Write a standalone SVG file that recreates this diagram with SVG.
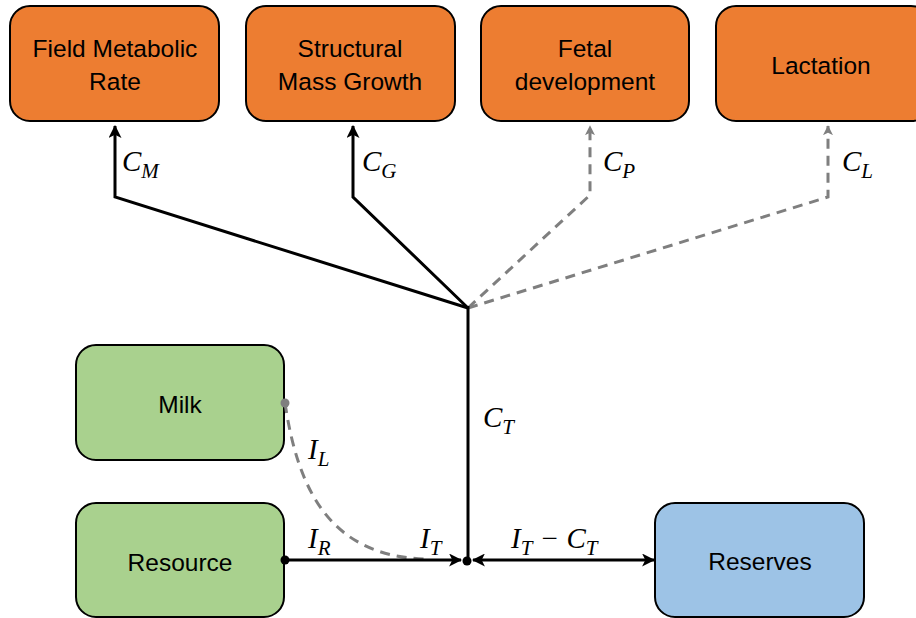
<svg xmlns="http://www.w3.org/2000/svg" width="916" height="618" viewBox="0 0 916 618">
<defs>
<style>
.orange{fill:#ed7d31;stroke:#000;stroke-width:2}
.green{fill:#a9d18e;stroke:#000;stroke-width:2}
.blue{fill:#9dc3e6;stroke:#000;stroke-width:2}
.lbl{font-family:"Liberation Sans",Arial,sans-serif;font-size:24.5px;fill:#000;text-anchor:middle}
.math{font-family:"Liberation Serif","DejaVu Serif",serif;font-style:italic;fill:#000;font-size:29px}
.sub{font-size:21px}
.solid{fill:none;stroke:#000;stroke-width:3}
.dash{fill:none;stroke:#7f7f7f;stroke-width:3;stroke-dasharray:10 7}
</style>
<marker id="ab" viewBox="0 0 12 12" refX="11" refY="6" markerWidth="13" markerHeight="13" markerUnits="userSpaceOnUse" orient="auto-start-reverse">
<path d="M0,0 L12,6 L0,12 L3,6 z" fill="#000"/>
</marker>
<marker id="ag" viewBox="0 0 12 12" refX="11" refY="6" markerWidth="10" markerHeight="10" markerUnits="userSpaceOnUse" orient="auto">
<path d="M0,0 L12,6 L0,12 L3,6 z" fill="#7f7f7f"/>
</marker>
</defs>
<g id="fmr"><rect class="orange" x="10" y="6" width="209" height="115" rx="20"/><text class="lbl" x="115" y="57">Field Metabolic</text><text class="lbl" x="115" y="90">Rate</text></g>
<g id="smg"><rect class="orange" x="246" y="6" width="209" height="115" rx="20"/><text class="lbl" x="350" y="57">Structural</text><text class="lbl" x="350" y="90">Mass Growth</text></g>
<g id="fetal"><rect class="orange" x="481" y="6" width="208" height="115" rx="20"/><text class="lbl" x="585" y="57">Fetal</text><text class="lbl" x="585" y="90">development</text></g>
<g id="lact"><rect class="orange" x="716" y="6" width="215" height="115" rx="20"/><text class="lbl" x="821" y="74">Lactation</text></g>
<g id="milk"><rect class="green" x="76" y="345" width="208" height="115" rx="20"/><text class="lbl" x="180" y="413">Milk</text></g>
<g id="resource"><rect class="green" x="76" y="503" width="208" height="114" rx="20"/><text class="lbl" x="180" y="571">Resource</text></g>
<g id="reserves"><rect class="blue" x="655" y="503" width="209" height="114" rx="20"/><text class="lbl" x="760" y="570">Reserves</text></g>
<g id="connectors">
<polyline class="solid" points="468,308 115,197 115,126" marker-end="url(#ab)"/>
<polyline class="solid" points="468,308 353,197 353,126" marker-end="url(#ab)"/>
<polyline class="dash" points="468,308 590,195 590,126" marker-end="url(#ag)"/>
<polyline class="dash" points="468,308 828,197 828,126" marker-end="url(#ag)"/>
<line class="solid" x1="468" y1="306" x2="468" y2="561"/>
<path class="dash" d="M285,403 C298,490 330,556 425,559"/>
<circle cx="285" cy="403" r="4.5" fill="#7f7f7f"/>
<line class="solid" x1="285" y1="560" x2="461" y2="560" marker-end="url(#ab)"/>
<circle cx="285" cy="560" r="4.5" fill="#000"/>
<line class="solid" x1="473" y1="560" x2="654" y2="560" marker-start="url(#ab)" marker-end="url(#ab)"/>
<circle cx="467" cy="561" r="4.5" fill="#000"/>
</g>
<g id="labels">
<text class="math" x="122" y="171">C<tspan class="sub" dy="7">M</tspan></text>
<text class="math" x="362" y="171">C<tspan class="sub" dy="7">G</tspan></text>
<text class="math" x="603" y="171">C<tspan class="sub" dy="7">P</tspan></text>
<text class="math" x="842" y="171">C<tspan class="sub" dy="7">L</tspan></text>
<text class="math" x="483" y="427">C<tspan class="sub" dy="7">T</tspan></text>
<text class="math" x="308" y="459">I<tspan class="sub" dy="7">L</tspan></text>
<text class="math" x="308" y="548">I<tspan class="sub" dy="7">R</tspan></text>
<text class="math" x="420" y="548">I<tspan class="sub" dy="7">T</tspan></text>
<text class="math" x="511" y="548">I<tspan class="sub" dy="7">T</tspan><tspan dy="-7"> − C</tspan><tspan class="sub" dy="7">T</tspan></text>
</g>
</svg>
